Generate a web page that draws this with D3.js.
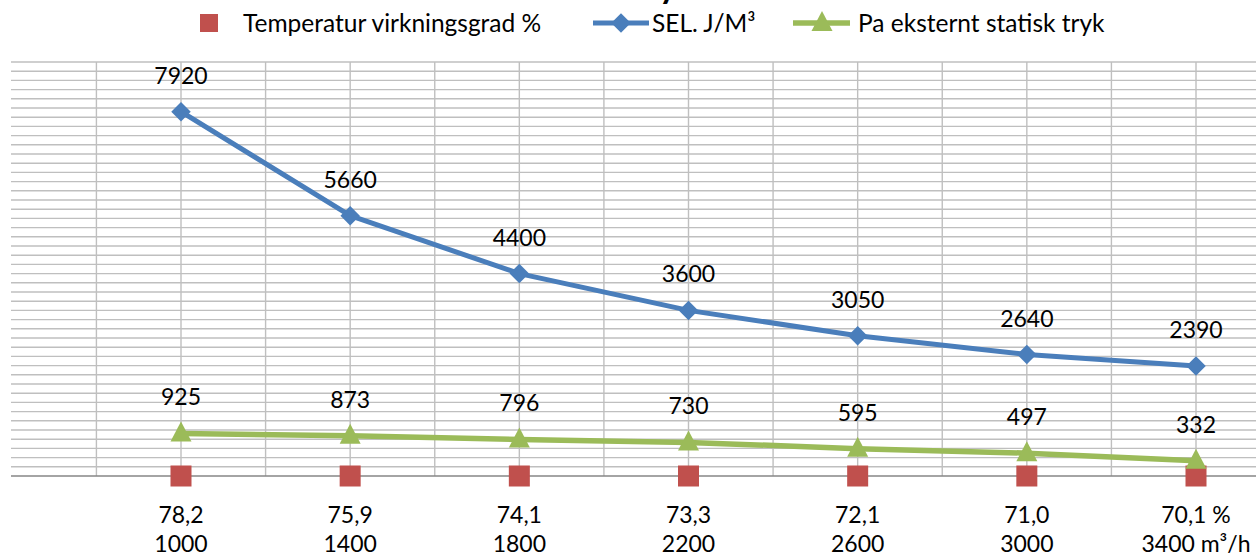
<!DOCTYPE html>
<html>
<head>
<meta charset="utf-8">
<script src="https://cdn.jsdelivr.net/npm/d3@7"></script>
<style>
  body { margin: 0; background: #fff; }
  svg { display: block; font-family: Lato, "Open Sans", sans-serif; }
</style>
</head>
<body>
<svg id="chart"></svg>
<script>
// data
const airflow = [1000, 1400, 1800, 2200, 2600, 3000, 3400];     // m³/h
const tempEff = [78.2, 75.9, 74.1, 73.3, 72.1, 71.0, 70.1];     // %
const sel = [7920, 5660, 4400, 3600, 3050, 2640, 2390];         // J/M³
const pa = [925, 873, 796, 730, 595, 497, 332];                 // Pa
const seriesNames = ['Temperatur virkningsgrad %', 'SEL. J/M³', 'Pa eksternt statisk tryk'];

const width = 1256, height = 556;
const plot = { left: 11, right: 1256, top: 62, bottom: 476 };
const colors = { red: '#c0504d', blue: '#4a7ebb', green: '#9bbb59', grid: '#bfbfbf', axis: '#868686' };

const svg = d3.select('#chart').attr('width', width).attr('height', height);

const x = d3.scalePoint()
    .domain(d3.range(airflow.length))
    .range([181, 1196]);
const step = x.step();

const y = d3.scaleLinear()
    .domain([0, 9000])
    .range([plot.bottom, plot.top]);

// cropped title, only the descender is visible
svg.append('text')
    .attr('x', 668).attr('y', -2)
    .attr('text-anchor', 'middle')
    .style('font-size', '34px').style('font-weight', 'bold')
    .text('y');

// gridlines
let grid = svg.append('g').attr('class', 'grid');
grid.selectAll('line.h')
    .data(d3.range(200, 9001, 200))
    .enter().append('line')
    .attr('x1', plot.left).attr('x2', plot.right)
    .attr('y1', d => y(d)).attr('y2', d => y(d))
    .attr('stroke', colors.grid).attr('stroke-width', 1.4);

let vx = [];
x.domain().forEach(i => { vx.push(x(i) - step / 2); vx.push(x(i)); });
grid.selectAll('line.v')
    .data(vx)
    .enter().append('line')
    .attr('x1', d => d).attr('x2', d => d)
    .attr('y1', plot.top).attr('y2', plot.bottom)
    .attr('stroke', colors.grid).attr('stroke-width', 1.4);

// x axis line
svg.append('line')
    .attr('x1', plot.left).attr('x2', plot.right)
    .attr('y1', y(0)).attr('y2', y(0))
    .attr('stroke', colors.axis).attr('stroke-width', 1.6);

// category labels (two lines)
let fmt = d3.format('.1f');
let cats = svg.append('g').selectAll('text')
    .data(x.domain())
    .enter().append('text')
    .attr('text-anchor', 'middle')
    .style('font-size', '23px')
    .attr('fill', '#000');
cats.append('tspan')
    .attr('x', d => x(d)).attr('y', 523)
    .text(d => fmt(tempEff[d]).replace('.', ',') + (d === airflow.length - 1 ? ' %' : ''));
cats.append('tspan')
    .attr('x', d => x(d)).attr('y', 552)
    .text(d => airflow[d] + (d === airflow.length - 1 ? ' m³/h' : ''));

// lines
let line = d3.line()
    .x((d, i) => x(i))
    .y(d => y(d));

svg.append('path')
    .datum(sel)
    .attr('d', line)
    .attr('fill', 'none').attr('stroke', colors.blue)
    .attr('stroke-width', 5).attr('stroke-linejoin', 'round');

svg.append('path')
    .datum(pa)
    .attr('d', line)
    .attr('fill', 'none').attr('stroke', colors.green)
    .attr('stroke-width', 5.5).attr('stroke-linejoin', 'round');

// markers
const diamond = d3.symbol().type(d3.symbolSquare).size(190);
const triangle = 'M0,-12L10.5,8L-10.5,8Z';

svg.append('g').selectAll('rect')
    .data(tempEff)
    .enter().append('rect')
    .attr('x', (d, i) => x(i) - 10.5)
    .attr('y', y(0) - 10.5)
    .attr('width', 21).attr('height', 21)
    .attr('fill', colors.red);

svg.append('g').selectAll('path')
    .data(sel)
    .enter().append('path')
    .attr('d', diamond)
    .attr('transform', (d, i) => `translate(${x(i)},${y(d)}) rotate(45)`)
    .attr('fill', colors.blue);

svg.append('g').selectAll('path')
    .data(pa)
    .enter().append('path')
    .attr('d', triangle)
    .attr('transform', (d, i) => `translate(${x(i)},${y(d)})`)
    .attr('fill', colors.green);

// data labels
function labels(values) {
  svg.append('g').selectAll('text')
      .data(values)
      .enter().append('text')
      .attr('x', (d, i) => x(i))
      .attr('y', d => y(d) - 28)
      .attr('text-anchor', 'middle')
      .style('font-size', '23px')
      .text(d => d);
}
labels(sel);
labels(pa);

// legend
let legend = svg.append('g').style('font-size', '24.5px');
legend.append('rect')
    .attr('x', 200).attr('y', 14).attr('width', 18).attr('height', 18)
    .attr('fill', colors.red);
legend.append('text').attr('x', 243).attr('y', 32).text(seriesNames[0]);

legend.append('line')
    .attr('x1', 593).attr('x2', 649).attr('y1', 23).attr('y2', 23)
    .attr('stroke', colors.blue).attr('stroke-width', 5);
legend.append('path')
    .attr('d', diamond)
    .attr('transform', 'translate(621,23) rotate(45)')
    .attr('fill', colors.blue);
legend.append('text').attr('x', 652).attr('y', 32).text(seriesNames[1]);

legend.append('line')
    .attr('x1', 793).attr('x2', 850).attr('y1', 23).attr('y2', 23)
    .attr('stroke', colors.green).attr('stroke-width', 5.5);
legend.append('path')
    .attr('d', triangle)
    .attr('transform', 'translate(822,23)')
    .attr('fill', colors.green);
legend.append('text').attr('x', 858).attr('y', 32).text(seriesNames[2]);
</script>
</body>
</html>
